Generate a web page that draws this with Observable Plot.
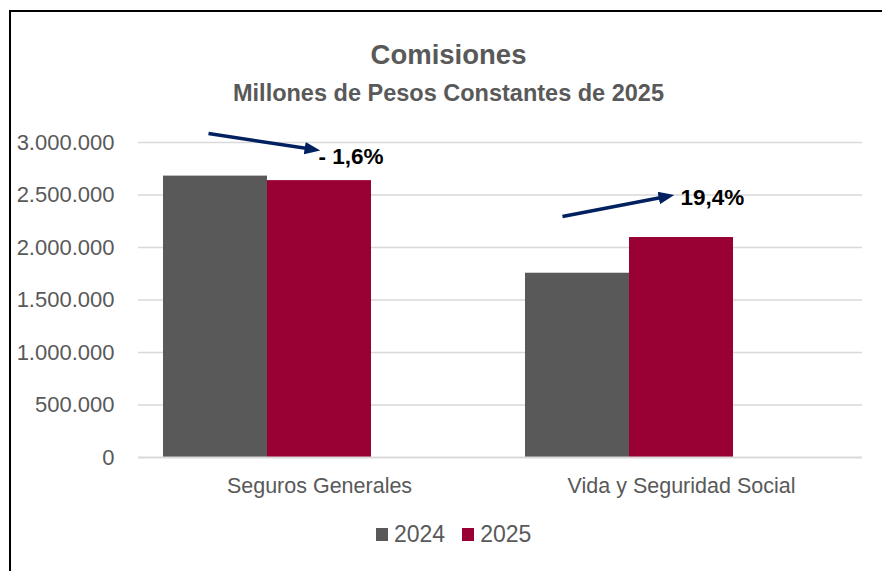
<!DOCTYPE html>
<html><head><meta charset="utf-8">
<script src="https://cdn.jsdelivr.net/npm/d3@7"></script>
<script src="https://cdn.jsdelivr.net/npm/@observablehq/plot@0.6"></script>
<style>
body{margin:0;background:#fff;font-family:"Liberation Sans",Arial,sans-serif;width:882px;height:571px;overflow:hidden;position:relative;}
#frame{position:absolute;left:9px;top:10px;width:900px;height:600px;border-left:2px solid #000;border-top:2px solid #000;box-sizing:border-box;}
.t{position:absolute;left:0;width:897px;text-align:center;color:#595959;font-weight:bold;white-space:nowrap;}
#title{top:41px;font-size:27.5px;line-height:28px;}
#subtitle{top:82px;font-size:23.5px;line-height:23px;}
#chart{position:absolute;left:0;top:120px;}
#legend{position:absolute;left:376px;top:522px;display:flex;align-items:center;font-size:23px;line-height:24px;color:#595959;white-space:nowrap;}
#legend .item{display:flex;align-items:center;margin-right:17px;}
#legend .sw{width:12px;height:13px;margin-right:6px;margin-top:1px;}
</style></head>
<body>
<div id="frame"></div>
<div id="title" class="t">Comisiones</div>
<div id="subtitle" class="t">Millones de Pesos Constantes de 2025</div>
<div id="chart"></div>
<div id="legend"></div>
<script>
const categories = ["Seguros Generales", "Vida y Seguridad Social"];
const years = ["2024", "2025"];
const values2024 = [2680000, 1755000];
const values2025 = [2637000, 2095000];
const changeLabels = ["- 1,6%", "19,4%"];
const arrowFrom = [3085000, 2295000];
const arrowTo = [2935000, 2485000];
const labelY = [2860000, 2470000];
const yTicks = [0, 500000, 1000000, 1500000, 2000000, 2500000, 3000000];
const colors = ["#595959", "#990033"];

const rows = categories.flatMap((c, i) => [
  {cat: c, year: years[0], value: values2024[i]},
  {cat: c, year: years[1], value: values2025[i]}
]);
const ann = categories.map((c, i) => ({cat: c, y1: arrowFrom[i], y2: arrowTo[i], label: changeLabels[i], ly: labelY[i]}));

const fmt = d => d3.format(",")(d).replace(/,/g, ".");

function filledArrow(color, context) {
  const doc = (context && context.document) || document;
  const m = doc.createElementNS("http://www.w3.org/2000/svg", "marker");
  m.setAttribute("viewBox", "-5 -5 10 10");
  m.setAttribute("markerWidth", "4.5");
  m.setAttribute("markerHeight", "4.5");
  m.setAttribute("orient", "auto");
  const p = doc.createElementNS("http://www.w3.org/2000/svg", "path");
  p.setAttribute("d", "M-5,-4L5,0L-5,4Z");
  p.setAttribute("fill", color);
  p.setAttribute("stroke", "none");
  m.appendChild(p);
  return m;
}

function arrowMarks(useCustom) {
  const shifts = [-7, -15];
  return ann.map((a, i) => useCustom
    ? Plot.link([a], {fx: "cat", x1: () => "2024", x2: () => "2025", y1: "y1", y2: "y2", stroke: "#002060", strokeWidth: 3.5, markerEnd: filledArrow, dx: shifts[i]})
    : Plot.arrow([a], {fx: "cat", x1: () => "2024", x2: () => "2025", y1: "y1", y2: "y2", stroke: "#002060", strokeWidth: 3.5, headLength: 12, dx: shifts[i]}));
}

function build(useCustom) {
  return Plot.plot({
    width: 882, height: 390,
    marginLeft: 137, marginRight: 20, marginTop: 22, marginBottom: 53,
    style: {fontFamily: "'Liberation Sans', Arial, sans-serif", fontSize: "21px", color: "#595959", background: "transparent", overflow: "visible"},
    fx: {domain: categories, padding: 0, label: null, axis: null},
    x: {domain: ["2024", "2025", ""], paddingInner: 0, paddingOuter: 0.23, axis: null},
    y: {domain: [0, 3000000], axis: null},
    color: {domain: years, range: colors},
    marks: [
      Plot.ruleY(yTicks.filter(d => d > 0), {stroke: "#d9d9d9", strokeWidth: 1.5}),
      Plot.barY(rows, {fx: "cat", x: "year", y: "value", fill: "year"}),
      Plot.ruleY([0], {stroke: "#d9d9d9", strokeWidth: 2}),
      Plot.axisY({ticks: yTicks, tickFormat: fmt, tickSize: 0, tickPadding: 24, label: null, fontSize: 22, fill: "#595959"}),
      Plot.axisFx({anchor: "bottom", tickSize: 0, tickPadding: 20, label: null, fontSize: 21.5, fill: "#595959"}),
      ...arrowMarks(useCustom),
      Plot.text(ann, {fx: "cat", x: () => "2025", y: "ly", text: "label", textAnchor: "start", fontWeight: "bold", fill: "#000", fontSize: 22.5, dx: -1})
    ]
  });
}

let chart;
try { chart = build(true); } catch (e) { chart = build(false); }
document.getElementById("chart").appendChild(chart);

// legend built from the same series names and colours
const legend = d3.select("#legend");
years.forEach((y, i) => {
  const item = legend.append("div").attr("class", "item");
  item.append("div").attr("class", "sw").style("background", colors[i]);
  item.append("span").text(y);
});
</script>
</body></html>
